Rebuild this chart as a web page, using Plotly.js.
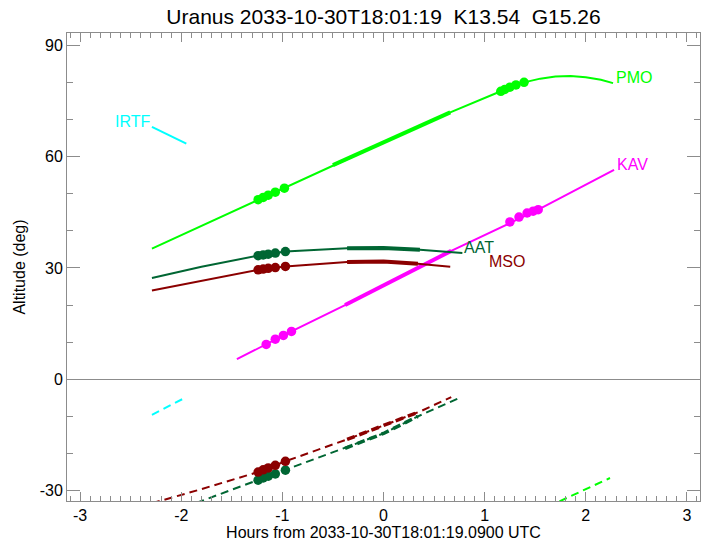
<!DOCTYPE html>
<html>
<head>
<meta charset="utf-8">
<script src="https://cdn.plot.ly/plotly-3.0.1.min.js"></script>
<style>html,body{margin:0;padding:0;background:#fff}#chart{width:708px;height:546px}</style>
</head>
<body>
<div id="chart"></div>
<script>
// ---- data (hours from reference time, altitude in degrees) ----
const stations = ["IRTF", "PMO", "KAV", "AAT", "MSO"];

const irtfHours = [-2.29, -1.95];
const irtfAlt   = [68.0, 63.5];

const pmoHours = [-2.29, -1.8, -1.25, -0.99, -0.5, 0, 0.66, 1.16, 1.39, 1.55, 1.7, 1.85, 2.0, 2.15, 2.27];
const pmoAlt   = [35.2, 41.3, 48.3, 51.5, 57.7, 63.8, 71.9, 77.6, 80.0, 81.0, 81.6, 81.7, 81.4, 80.7, 79.8];
const pmoThickHours = [-0.5, 0, 0.66];
const pmoThickAlt   = [57.7, 63.8, 71.9];
const pmoDotHours = [-1.24, -1.19, -1.14, -1.07, -0.98, 1.16, 1.20, 1.25, 1.31, 1.39];
const pmoDotAlt   = [48.4, 49.0, 49.6, 50.4, 51.5, 77.6, 78.1, 78.7, 79.3, 80.0];

const kavHours = [-1.45, -0.91, -0.38, 0.67, 1.53, 2.28];
const kavAlt   = [5.4, 12.9, 20.0, 34.6, 45.7, 56.4];
const kavThickHours = [-0.38, 0.67];
const kavThickAlt   = [20.0, 34.6];
const kavDotHours = [-1.16, -1.07, -0.99, -0.91, 1.25, 1.34, 1.42, 1.48, 1.53];
const kavDotAlt   = [9.4, 10.8, 11.8, 12.9, 42.4, 43.7, 44.8, 45.3, 45.7];

const aatHours = [-2.29, -1.8, -1.24, -0.97, -0.36, 0, 0.36, 0.78];
const aatAlt   = [27.3, 30.3, 33.3, 34.4, 35.3, 35.4, 34.9, 34.0];
const aatThickHours = [-0.36, 0, 0.36];
const aatThickAlt   = [35.3, 35.4, 34.9];
const aatDotHours = [-1.24, -1.19, -1.14, -1.07, -0.97];
const aatDotAlt   = [33.3, 33.5, 33.7, 34.0, 34.4];

const msoHours = [-2.29, -1.8, -1.24, -0.97, -0.36, 0, 0.34, 0.66];
const msoAlt   = [23.9, 26.6, 29.5, 30.4, 31.6, 31.7, 31.1, 30.3];
const msoThickHours = [-0.36, 0, 0.34];
const msoThickAlt   = [31.6, 31.7, 31.1];
const msoDotHours = [-1.24, -1.19, -1.14, -1.07, -0.97];
const msoDotAlt   = [29.5, 29.7, 29.9, 30.1, 30.4];

// dashed (negative-altitude) tracks
const irtfNegHours = [-2.29, -1.95];
const irtfNegAlt   = [-9.6, -4.8];

const pmoNegHours = [1.74, 2.24];
const pmoNegAlt   = [-32.9, -26.6];

const aatNegHours = [-1.85, -1.24, -0.97, -0.38, 0, 0.34, 0.77];
const aatNegAlt   = [-33.3, -27.2, -24.5, -18.6, -14.6, -10.0, -4.8];
const aatNegThickHours = [-0.38, 0, 0.34];
const aatNegThickAlt   = [-18.6, -14.6, -10.0];
const aatNegDotHours = [-1.24, -1.19, -1.14, -1.07, -0.97];
const aatNegDotAlt   = [-27.2, -26.6, -26.1, -25.5, -24.5];

const msoNegHours = [-2.29, -1.8, -1.23, -0.97, -0.36, 0, 0.36, 0.67];
const msoNegAlt   = [-33.4, -29.6, -24.9, -22.1, -16.2, -12.5, -8.7, -4.8];
const msoNegThickHours = [-0.36, 0, 0.36];
const msoNegThickAlt   = [-16.2, -12.5, -8.7];
const msoNegDotHours = [-1.24, -1.19, -1.14, -1.07, -0.97];
const msoNegDotAlt   = [-25.0, -24.4, -23.9, -23.2, -22.1];

const xTicks = [-3, -2, -1, 0, 1, 2, 3];
const yTicks = [-30, 0, 30, 60, 90];

const titleText = "Uranus 2033-10-30T18:01:19  K13.54  G15.26";
const xTitle = "Hours from 2033-10-30T18:01:19.0900 UTC";
const yTitle = "Altitude (deg)";

// ---- styles ----
const colors = {IRTF: "#00ffff", PMO: "#00ff00", KAV: "#ff00ff", AAT: "#006633", MSO: "#8b0000"};
const FONT = "Liberation Sans, Arial, Helvetica, sans-serif";
const DASH = "8px,5px";

const traces = [];
function line(x, y, c, w, dash) {
  traces.push({x, y, type: "scatter", mode: "lines", hoverinfo: "skip",
    line: {color: c, width: w, dash: dash || "solid"}, showlegend: false});
}
function dots(x, y, c) {
  traces.push({x, y, type: "scatter", mode: "markers", hoverinfo: "skip",
    marker: {color: c, size: 9.5, line: {width: 0}}, showlegend: false});
}

line(irtfHours, irtfAlt, colors.IRTF, 2);
line(pmoHours, pmoAlt, colors.PMO, 2);
line(pmoThickHours, pmoThickAlt, colors.PMO, 4);
dots(pmoDotHours, pmoDotAlt, colors.PMO);
line(kavHours, kavAlt, colors.KAV, 2);
line(kavThickHours, kavThickAlt, colors.KAV, 4);
dots(kavDotHours, kavDotAlt, colors.KAV);
line(aatHours, aatAlt, colors.AAT, 2);
line(aatThickHours, aatThickAlt, colors.AAT, 4);
dots(aatDotHours, aatDotAlt, colors.AAT);
line(msoHours, msoAlt, colors.MSO, 2);
line(msoThickHours, msoThickAlt, colors.MSO, 4);
dots(msoDotHours, msoDotAlt, colors.MSO);

line(irtfNegHours, irtfNegAlt, colors.IRTF, 2, DASH);
line(pmoNegHours, pmoNegAlt, colors.PMO, 2, DASH);
line(aatNegHours, aatNegAlt, colors.AAT, 2, DASH);
line(aatNegThickHours, aatNegThickAlt, colors.AAT, 3.5, DASH);
dots(aatNegDotHours, aatNegDotAlt, colors.AAT);
line(msoNegHours, msoNegAlt, colors.MSO, 2, DASH);
line(msoNegThickHours, msoNegThickAlt, colors.MSO, 3.5, DASH);
dots(msoNegDotHours, msoNegDotAlt, colors.MSO);

// station labels at the curve ends
function label(name, x, y, anchor, xshift) {
  return {x, y, text: name, showarrow: false, xanchor: anchor, yanchor: "bottom",
    xshift: xshift || 0, yshift: -5, font: {family: FONT, size: 16, color: colors[name]}};
}
const last = a => a[a.length - 1];
const annotations = [
  label("IRTF", irtfHours[0], irtfAlt[0], "right", 0),
  label("PMO", last(pmoHours), last(pmoAlt), "left", 1),
  label("KAV", last(kavHours), last(kavAlt), "left", 1),
  label("AAT", last(aatHours), last(aatAlt), "left", 0),
  label("MSO", last(msoHours), last(msoAlt), "left", 37)
];

const axisColor = "#8c8c8c";
const layout = {
  width: 708, height: 546,
  margin: {l: 67, r: 8, t: 33, b: 45},
  paper_bgcolor: "#ffffff", plot_bgcolor: "#ffffff",
  font: {family: FONT, size: 16, color: "#000"},
  title: {text: titleText, font: {family: FONT, size: 21, color: "#000"},
    xref: "paper", x: 0.5, xanchor: "center", yref: "container", y: 1 - 17 / 546, yanchor: "middle"},
  xaxis: {
    range: [-3.13, 3.13], tickvals: xTicks, ticktext: xTicks.map(String),
    ticks: "inside", ticklen: 9, tickwidth: 1, tickcolor: axisColor,
    minor: {dtick: 0.1, tick0: 0, ticks: "inside", ticklen: 5, tickwidth: 1, tickcolor: axisColor},
    showline: true, linecolor: axisColor, linewidth: 1, mirror: "allticks",
    showgrid: false, zeroline: false,
    tickfont: {family: FONT, size: 16, color: "#000"},
    title: {text: xTitle, font: {family: FONT, size: 16, color: "#000"}, standoff: 2}
  },
  yaxis: {
    range: [-32.8, 93.3], tickvals: yTicks, ticktext: yTicks.map(String),
    ticks: "inside", ticklen: 13, tickwidth: 1, tickcolor: axisColor,
    minor: {dtick: 10, tick0: 0, ticks: "inside", ticklen: 6, tickwidth: 1, tickcolor: axisColor},
    showline: true, linecolor: axisColor, linewidth: 1, mirror: "allticks",
    showgrid: false, zeroline: true, zerolinecolor: axisColor, zerolinewidth: 1,
    tickfont: {family: FONT, size: 16, color: "#000"},
    title: {text: yTitle, font: {family: FONT, size: 16, color: "#000"}, standoff: 10}
  },
  annotations
};

Plotly.newPlot("chart", traces, layout, {displayModeBar: false, staticPlot: true});
</script>
</body>
</html>
